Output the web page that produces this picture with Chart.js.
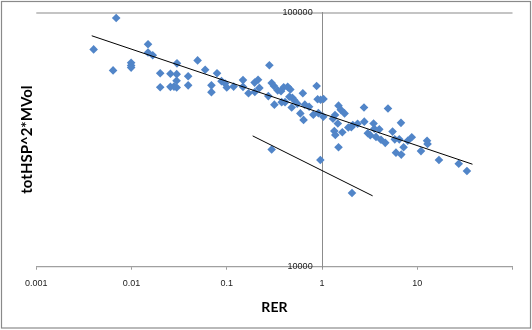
<!DOCTYPE html>
<html><head><meta charset="utf-8">
<script src="https://cdn.jsdelivr.net/npm/chart.js@4/dist/chart.umd.min.js"></script>
<style>html,body{margin:0;padding:0;background:#fff}</style>
</head><body>
<canvas id="c" width="532" height="330"></canvas>
<script>
// RER values (x) and totHSP^2*MVol values (y)
const rer = [
  0.0040, 0.0069, 0.0064, 0.0099, 0.0099, 0.0099, 0.0149, 0.0149, 0.0167, 0.030,
  0.020, 0.020, 0.0256, 0.0256, 0.0298, 0.0297, 0.0298, 0.0279, 0.0393, 0.0393,
  0.0494, 0.0593, 0.079, 0.069, 0.069, 0.088, 0.096, 0.100, 0.118, 0.148,
  0.148, 0.169, 0.196, 0.213, 0.220, 0.197, 0.280, 0.296, 0.313, 0.273,
  0.342, 0.371, 0.396, 0.436, 0.465, 0.316, 0.377, 0.409, 0.454, 0.488,
  0.512, 0.480, 0.629, 0.592, 0.640, 0.660, 0.732, 0.810, 0.878, 0.899,
  0.967, 1.037, 0.915, 1.032, 1.304, 1.369, 1.49, 1.575, 1.726, 1.465,
  1.633, 1.346, 1.379, 1.49, 1.888, 2.03, 2.105, 2.364, 2.759, 2.779,
  3.024, 3.212, 3.478, 3.539, 3.687, 3.994, 4.16, 4.615, 4.927, 5.506,
  5.806, 5.976, 6.474, 6.745, 6.793, 7.183, 7.95, 8.756, 10.94, 12.67,
  12.83, 16.89, 27.26, 33.22, 2.064, 0.96, 0.296, 0.55
];
const vol = [
  71600, 95100, 59200, 63400, 61900, 60700, 75000, 69600, 67900, 63100,
  57700, 50800, 57400, 51000, 57200, 53900, 50700, 51100, 56100, 51700,
  64800, 59500, 57700, 51700, 48600, 53700, 52600, 50700, 51100, 54200,
  51000, 48100, 53000, 54400, 50500, 48700, 62000, 52800, 51400, 46900,
  49400, 49000, 50800, 51000, 49800, 43400, 44400, 44400, 46600, 46200,
  45200, 42300, 48100, 40100, 37800, 43400, 42600, 39600, 51400, 45600,
  45400, 45700, 40200, 38900, 38200, 39500, 43000, 41400, 40100, 36600,
  33800, 34200, 33000, 29500, 35300, 35400, 36100, 36500, 42300, 37200,
  33500, 32900, 36600, 34900, 32400, 34700, 31600, 30700, 41900, 34000,
  31700, 28100, 31700, 36800, 27600, 29500, 31300, 32300, 28500, 31300,
  30400, 26300, 25400, 23800, 19500, 26300, 28900, 43800
];
// Trend line end points
const trend1Rer = [0.00382, 38.0];
const trend1Vol = [81000, 25300];
const trend2Rer = [0.187, 3.40];
const trend2Vol = [32700, 19000];
// Tick labels
const xTicks = [0.001, 0.01, 0.1, 1, 10, 100];
const xTickLabels = ['0.001', '0.01', '0.1', '1', '10', ''];
const yTicks = [10000, 100000];
const yTickLabels = ['10000', '100000'];
const yAxisCross = 1;        // vertical axis crosses at RER = 1
const yLabelAnchor = 0.797;  // tick labels sit just left of the crossing

const pts = (xs, ys) => xs.map((x, i) => ({x: x, y: ys[i]}));

const frame = {
  id: 'frame',
  beforeDraw(chart) {
    const c = chart.ctx;
    c.save(); c.fillStyle = '#fff'; c.fillRect(0, 0, chart.width, chart.height); c.restore();
  },
  afterDraw(chart) {
    const c = chart.ctx;
    c.save(); c.strokeStyle = '#8a8a8a'; c.lineWidth = 1.2;
    c.strokeRect(1.5, 1.5, 529, 326.5); c.restore();
  }
};

new Chart(document.getElementById('c'), {
  type: 'scatter',
  data: {
    datasets: [
      {data: pts(rer, vol), pointStyle: 'rectRot', pointRadius: 4.3, backgroundColor: '#5185C8', borderWidth: 0, order: 2},
      {data: pts(trend1Rer, trend1Vol), showLine: true, borderColor: '#000', borderWidth: 1, pointRadius: 0, order: 1},
      {data: pts(trend2Rer, trend2Vol), showLine: true, borderColor: '#000', borderWidth: 1, pointRadius: 0, order: 1}
    ]
  },
  options: {
    responsive: false, animation: false, devicePixelRatio: 1,
    layout: {padding: {left: 0, right: 19.5, top: 12.5, bottom: 0}},
    plugins: {legend: {display: false}, tooltip: {enabled: false}},
    scales: {
      x: {
        type: 'logarithmic', position: 'bottom', min: 0.001, max: 100,
        afterBuildTicks: s => { s.ticks = xTicks.map(v => ({value: v})); },
        afterFit: s => { s.height = 63.3; },
        ticks: {
          callback: v => xTickLabels[xTicks.indexOf(v)],
          font: {family: 'Liberation Sans', size: 9}, color: '#222', padding: 8,
          maxRotation: 0, autoSkip: false
        },
        grid: {drawOnChartArea: false, tickLength: 3, color: '#9a9a9a'},
        border: {color: '#a0a0a0', width: 1.2},
        title: {display: true, text: 'RER', font: {family: 'Lato', size: 14, weight: 'bold'}, color: '#000', padding: {top: 0, bottom: 14.3}}
      },
      y: {
        type: 'logarithmic', position: {x: yAxisCross}, min: 10000, max: 100000,
        afterBuildTicks: s => { s.ticks = yTicks.map(v => ({value: v})); },
        ticks: {display: false},
        grid: {color: c => (c.tick && c.tick.value === 100000) ? '#c4c4c4' : 'rgba(0,0,0,0)', lineWidth: 2, tickLength: 5},
        border: {color: '#8c8c8c', width: 1}
      },
      yLab: {
        type: 'logarithmic', position: {x: yLabelAnchor}, min: 10000, max: 100000,
        afterBuildTicks: s => { s.ticks = yTicks.map(v => ({value: v})); },
        ticks: {
          callback: v => yTickLabels[yTicks.indexOf(v)],
          font: {family: 'Liberation Sans', size: 9}, color: '#222', autoSkip: false
        },
        grid: {display: false}, border: {display: false}
      },
      yt: {
        type: 'linear', position: 'left', display: true,
        afterFit: s => { s.width = 36.3; },
        ticks: {display: false}, grid: {display: false}, border: {display: false},
        title: {display: true, text: 'totHSP^2*MVol', font: {family: 'Lato', size: 15, weight: 'bold'}, color: '#000', padding: {top: 18, bottom: 0}}
      }
    }
  },
  plugins: [frame]
});
</script>
</body></html>
